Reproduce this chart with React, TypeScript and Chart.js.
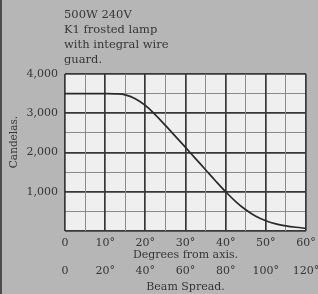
import React, { useEffect, useRef } from 'react';
import { Chart, registerables } from 'chart.js';
Chart.register(...registerables);

const headerLines = ['500W 240V', 'K1 frosted lamp', 'with integral wire', 'guard.'];
const yTitle = 'Candelas.';
const xTitle = 'Degrees from axis.';
const x2Title = 'Beam Spread.';
const degrees = [0, 5, 10, 12.5, 15, 17.5, 20, 22.5, 25, 27.5, 30, 32.5, 35, 37.5, 40, 42.5, 45, 47.5, 50, 52.5, 55, 57.5, 60];
const candelas = [3500, 3500, 3500, 3495, 3470, 3370, 3200, 2960, 2690, 2410, 2130, 1845, 1560, 1275, 1000, 750, 540, 375, 260, 180, 130, 95, 68];

const FONT = "'DejaVu Serif', serif";
const TEXT = '#363636';

export default function App() {
  const ref = useRef<HTMLCanvasElement | null>(null);
  useEffect(() => {
    document.body.style.margin = '0';
    const canvas = ref.current!;
    const deco = {
      id: 'deco',
      beforeDraw(chart: any) {
        const { ctx, chartArea: a } = chart;
        ctx.save();
        ctx.fillStyle = '#b6b6b6';
        ctx.fillRect(0, 0, chart.width, chart.height);
        ctx.fillStyle = '#4c4c4c';
        ctx.fillRect(0, 0, 2, chart.height);
        ctx.fillStyle = '#efefef';
        ctx.fillRect(a.left, a.top, a.right - a.left, a.bottom - a.top);
        ctx.restore();
      },
      afterDraw(chart: any) {
        const { ctx } = chart;
        ctx.save();
        ctx.fillStyle = TEXT;
        ctx.font = `11.5px ${FONT}`;
        ctx.textBaseline = 'alphabetic';
        ctx.textAlign = 'left';
        headerLines.forEach((l, i) => ctx.fillText(l, 64, 18 + i * 15));
        ctx.font = `10.5px ${FONT}`;
        ctx.translate(17, 142);
        ctx.rotate(-Math.PI / 2);
        ctx.textAlign = 'center';
        ctx.fillText(yTitle, 0, 0);
        ctx.restore();
      },
    };
    const major = (c: any) => (c.tick && c.tick.value % 10 === 0 ? '#383838' : '#8a8a8a');
    const majorW = (c: any) => (c.tick && c.tick.value % 10 === 0 ? 1.7 : 1);
    const chart = new Chart(canvas, {
      type: 'line',
      data: {
        datasets: [
          {
            data: degrees.map((d, i) => ({ x: d, y: candelas[i] })),
            borderColor: '#2a2a2a',
            borderWidth: 1.7,
            pointRadius: 0,
            tension: 0.35,
            fill: false,
          },
        ],
      },
      options: {
        animation: false,
        responsive: false,
        maintainAspectRatio: false,
        layout: { padding: { top: 74, right: 12, left: 0, bottom: 0 } },
        plugins: { legend: { display: false }, tooltip: { enabled: false }, title: { display: false } },
        scales: {
          y: {
            type: 'linear',
            min: 0,
            max: 4000,
            afterFit: (s: any) => { s.width = 65; s.paddingTop = 0; s.paddingBottom = 0; },
            border: { display: false },
            grid: {
              drawTicks: false,
              color: (c: any) => (c.tick && c.tick.value % 1000 === 0 ? '#383838' : '#8a8a8a'),
              lineWidth: (c: any) => (c.tick && c.tick.value % 1000 === 0 ? 1.7 : 1),
            },
            ticks: {
              stepSize: 500,
              padding: 7,
              color: TEXT,
              font: { family: FONT, size: 11 },
              callback: (v: any) => (v > 0 && v % 1000 === 0 ? v.toLocaleString('en-US') : ''),
            },
          },
          x: {
            type: 'linear',
            position: 'bottom',
            min: 0,
            max: 60,
            afterFit: (s: any) => { s.height = 32; s.paddingLeft = 0; s.paddingRight = 0; },
            border: { display: false },
            grid: { drawTicks: false, color: major, lineWidth: majorW },
            ticks: {
              stepSize: 5,
              padding: 6,
              color: TEXT,
              maxRotation: 0,
              autoSkip: false,
              font: { family: FONT, size: 11 },
              callback: (v: any) => (v % 10 === 0 ? (v === 0 ? '0' : v + '°') : ''),
            },
            title: { display: true, text: xTitle, color: TEXT, font: { family: FONT, size: 11 }, padding: { top: 0, bottom: 1 } },
          },
          x2: {
            type: 'linear',
            position: 'bottom',
            min: 0,
            max: 120,
            afterFit: (s: any) => { s.height = 31; s.paddingLeft = 0; s.paddingRight = 0; },
            border: { display: false },
            grid: { display: false, drawTicks: false },
            ticks: {
              stepSize: 20,
              padding: 2,
              color: TEXT,
              maxRotation: 0,
              autoSkip: false,
              font: { family: FONT, size: 11 },
              callback: (v: any) => (v === 0 ? '0' : v + '°'),
            },
            title: { display: true, text: x2Title, color: TEXT, font: { family: FONT, size: 11 }, padding: { top: 0, bottom: 0 } },
          },
        },
      },
      plugins: [deco],
    } as any);
    return () => chart.destroy();
  }, []);
  return <canvas ref={ref} width={318} height={294} style={{ display: 'block' }} />;
}
